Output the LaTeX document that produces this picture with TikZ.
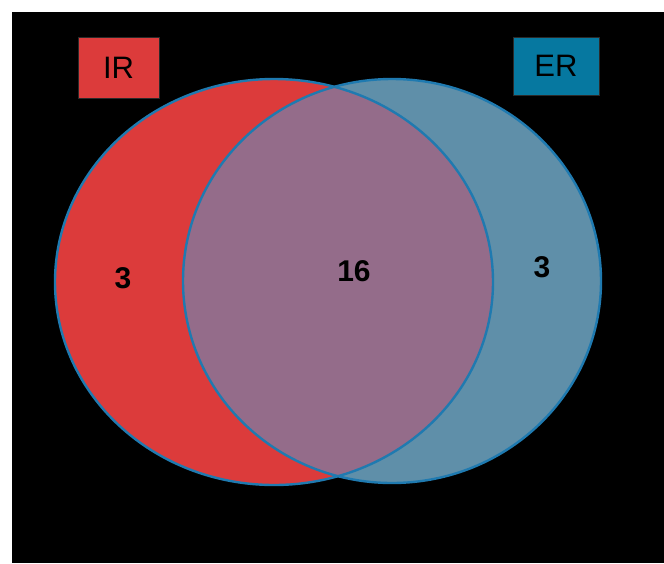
\documentclass[tikz,border=0pt]{standalone}
\usepackage{fontspec}
\setmainfont{Liberation Sans}
\definecolor{irred}{HTML}{DC3B3B}
\definecolor{erblue}{HTML}{5F8FA9}
\definecolor{bothmauve}{HTML}{946C8A}
\definecolor{rimblue}{HTML}{1F7AB0}
\definecolor{tagblue}{HTML}{0678A0}
\definecolor{tagrim}{HTML}{2A2A2A}
\tikzset{
  tag/.style={draw=tagrim, line width=1pt, minimum width=81pt, minimum height=61pt,
    inner sep=0pt, font=\fontsize{31}{31}\selectfont, text=black},
  count/.style={font=\fontsize{30}{30}\selectfont\bfseries, text=black},
  rim/.style={draw=rimblue, line width=2.4pt}
}
\begin{document}
\begin{tikzpicture}[x=1pt, y=-1pt]
  \useasboundingbox (0,0) rectangle (664,563);
  \fill[white] (0,0) rectangle (664,563);
  \fill[black] (12,12) rectangle (664,563);
  % the two sets
  \fill[irred] (274,282) ellipse [x radius=219, y radius=203];
  \fill[erblue] (392,281) ellipse [x radius=209, y radius=202];
  \begin{scope}
    \clip (274,282) ellipse [x radius=219, y radius=203];
    \fill[bothmauve] (392,281) ellipse [x radius=209, y radius=202];
  \end{scope}
  \draw[rim] (274,282) ellipse [x radius=219, y radius=203];
  \draw[rim] (392,281) ellipse [x radius=209, y radius=202];
  % legend tags
  \node[tag, fill=irred] (ir) at (118.5,67.5) {IR};
  \node[tag, fill=tagblue, minimum width=86pt, minimum height=58pt] (er) at (556,66) {ER};
  % counts
  \node[count] (onlyir) at (123,278) {3};
  \node[count] (both) at (354,271) {16};
  \node[count] (onlyer) at (542,267) {3};
\end{tikzpicture}
\end{document}
